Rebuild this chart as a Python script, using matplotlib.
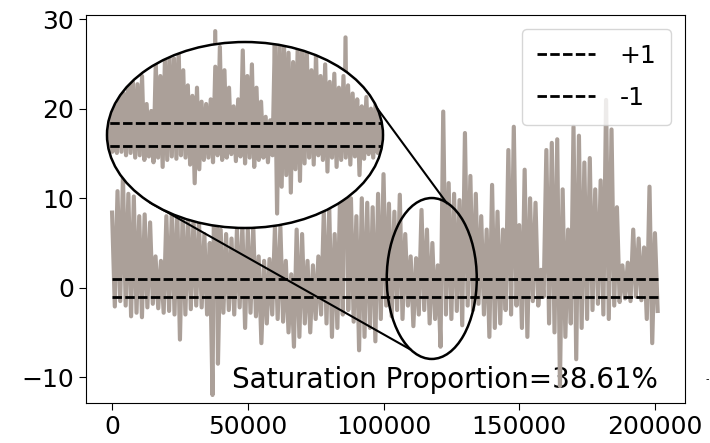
import numpy as np
import matplotlib
matplotlib.use("Agg")
import matplotlib.pyplot as plt
from matplotlib.patches import Ellipse

# signal: one peak and one trough per 2000 samples
sig_hi = [
    8.4, 10.8, 12.5, 10.5, 10.2, 8.0, 8.2, 7.3, 3.5, 3.0,
    8.0, 8.5, 9.0, 8.5, 8.0, 7.8, 7.5, 6.0, 5.0, 28.7,
    6.5, 6.0, 5.5, 6.5, 7.0, 6.5, 7.0, 3.5, 3.0, 3.2,
    6.8, 6.8, 3.0, 1.5, 6.5, 6.0, 3.0, 2.5, 3.5, 8.5,
    9.0, 6.0, 10.5, 28.0, 10.0, 8.0, 10.0, 9.5, 9.0, 10.5,
    12.7, 9.4, 8.5, 10.4, 6.0, 3.5, 3.3, 8.7, 6.5, 5.0,
    2.5, 19.7, 11.7, 10.5, 9.8, 17.3, 12.5, 10.5, 8.0, 6.5,
    11.5, 8.5, 6.5, 15.4, 18.0, 7.0, 13.2, 10.0, 9.5, 2.0,
    15.4, 16.2, 16.6, 11.0, 6.5, 18.0, 17.0, 14.0, 14.5, 11.0,
    12.0, 21.0, 17.7, 9.0, 2.5, 2.8, 6.5, 5.5, 4.5, 11.3,
    6.1,
]
sig_lo = [
    -2.1, -1.5, -2.0, -3.2, -2.8, -3.3, -2.2, -1.8, -2.3, -2.8,
    -2.6, -3.0, -5.8, -3.0, -2.4, -2.0, -2.2, -3.0, -12.0, -8.5,
    -2.8, -2.5, -3.0, -2.2, -4.5, -2.8, -3.2, -6.2, -4.0, -3.0,
    -3.5, -3.8, -5.0, -6.6, -5.5, -4.0, -5.0, -3.5, -3.0, -4.0,
    -5.5, -4.5, -3.0, -2.5, -3.8, -7.0, -5.5, -4.5, -6.0, -3.5,
    -2.0, -3.2, -2.5, -3.5, -2.0, -4.3, -3.0, -2.5, -4.0, -3.5,
    -6.6, -3.0, -3.5, -2.6, -4.2, -2.0, -2.5, -1.8, -3.0, -5.5,
    -4.5, -4.0, -2.5, -3.0, -2.0, -4.5, -5.5, -1.5, -2.0, -1.0,
    -4.0, -5.0, -11.0, -5.5, -4.0, -8.0, -4.5, -3.5, -2.5, -1.8,
    -3.0, -3.5, -2.0, -1.6, -1.2, -1.5, -1.0, -1.4, -3.5, -6.2,
    -2.6,
]

# zoomed window (about samples 101000-134000), one peak/trough per 550 samples
zoom_hi = [
    3.0, 3.8, 2.5, 4.0, 3.5, 5.3, 4.5, 4.3, 5.0, 2.6,
    2.0, 6.1, 5.0, 6.5, 6.8, 6.5, 7.2, 5.5, 4.2, 3.3,
    4.0, 2.8, 2.6, 3.0, 5.8, 7.5, 5.5, 4.0, 2.4, 3.0,
    7.2, 5.0, 6.0, 4.0, 2.8, 1.5, 1.2, 8.0, 8.0, 8.0,
    7.0, 6.2, 7.5, 8.0, 7.0, 5.5, 7.0, 5.0, 6.0, 4.5,
    5.2, 4.0, 5.0, 4.2, 3.5, 3.0, 2.4, 3.2, 2.2, 2.6,
    1.8,
]
zoom_lo = [
    -1.4, -1.5, -1.6, -1.5, -1.8, -1.6, -2.0, -1.8, -2.2, -1.9,
    -2.4, -2.0, -2.8, -2.2, -1.9, -2.1, -1.8, -2.0, -2.6, -4.2,
    -3.0, -2.2, -2.0, -2.4, -1.8, -2.2, -2.0, -1.7, -2.3, -1.9,
    -2.5, -2.0, -2.8, -2.2, -2.0, -2.4, -1.8, -6.8, -4.5, -3.5,
    -5.0, -3.0, -4.0, -2.5, -2.0, -2.6, -1.8, -2.2, -3.2, -2.0,
    -2.8, -2.2, -2.0, -2.6, -1.9, -3.5, -2.1, -1.7, -2.0, -1.6,
    -1.5,
]

levels = [1, -1]
level_labels = ["+1", "-1"]
note = "Saturation Proportion=38.61%"

LINE_C = "#aba099"
DASH = (0, (3.4, 1.2))


def zigzag(hi, lo, step, start=0):
    # peak then trough inside each step, in reading order
    n = len(hi)
    xs = np.empty(2 * n)
    ys = np.empty(2 * n)
    xs[0::2] = start + np.arange(n) * step
    xs[1::2] = start + np.arange(n) * step + step / 2
    ys[0::2] = hi
    ys[1::2] = lo
    return xs, ys


x, y = zigzag(sig_hi, sig_lo, 2000)
zx, zy = zigzag(zoom_hi, zoom_lo, 550, start=101000)

fig = plt.figure(figsize=(7.1, 4.43), dpi=100)
ax = fig.add_axes([0.1211, 0.0892, 0.8437, 0.8763])

ax.plot(x, y, color=LINE_C, lw=3.0, zorder=2)
for lv, lab in zip(levels, level_labels):
    ax.plot([x[0], x[-1]], [lv, lv], color="black", lw=2, ls=DASH, label=lab, zorder=3)

ax.set_xlim(-9620, 211080)
ax.set_ylim(-12.95, 30.47)
ax.set_xticks([0, 50000, 100000, 150000, 200000])
ax.set_yticks([-10, 0, 10, 20, 30])
ax.tick_params(labelsize=18, length=5)

# small ellipse marks the zoomed window
sm_cx, sm_cy, sm_w, sm_h = 117770, 1.03, 33165, 18.0
ax.add_patch(Ellipse((sm_cx, sm_cy), sm_w, sm_h, fill=False, ec="black", lw=1.8, zorder=4))

# big ellipse holding the magnified view
bg_cx, bg_cy, bg_w, bg_h = 48970, 17.08, 101700, 20.8
ax_in = ax.inset_axes([bg_cx - bg_w / 2, bg_cy - bg_h / 2, bg_w, bg_h],
                      transform=ax.transData, zorder=5)
ax_in.patch.set_visible(False)
ax_in.axis("off")
ax_in.set_xlim(sm_cx - sm_w / 2, sm_cx + sm_w / 2)
ax_in.set_ylim(-8.04, 7.92)
bg = Ellipse((0.5, 0.5), 1, 1, transform=ax_in.transAxes, fc="white", ec="none", zorder=0)
ax_in.add_patch(bg)
ln, = ax_in.plot(zx, zy, color=LINE_C, lw=3.0, zorder=2)
ln.set_clip_path(bg)
for lv in levels:
    dl, = ax_in.plot([zx[0] - 1000, zx[-1] + 1000], [lv, lv], color="black", lw=2, ls=DASH, zorder=3)
    dl.set_clip_path(bg)
ax_in.add_patch(Ellipse((0.5, 0.5), 1, 1, transform=ax_in.transAxes, fill=False,
                        ec="black", lw=1.8, zorder=4, clip_on=False))

# connector lines between the two ellipses
ax.plot([97600, 123300], [20.1, 9.47], color="black", lw=1.5, zorder=4)
ax.plot([13970, 109780], [9.53, -6.89], color="black", lw=1.5, zorder=4)

ax.text(44200, -11.2, note, fontsize=20, ha="left", va="baseline", zorder=1)

leg = ax.legend(loc="upper right", fontsize=18, handlelength=2.3, handletextpad=1.0,
                borderaxespad=0.55, borderpad=0.6, labelspacing=0.7)
leg.set_zorder(6)

fig.text(0.9955, 1 - 379 / 443, "-", fontsize=7, ha="center", va="center")

fig.savefig("out.png", dpi=100)
